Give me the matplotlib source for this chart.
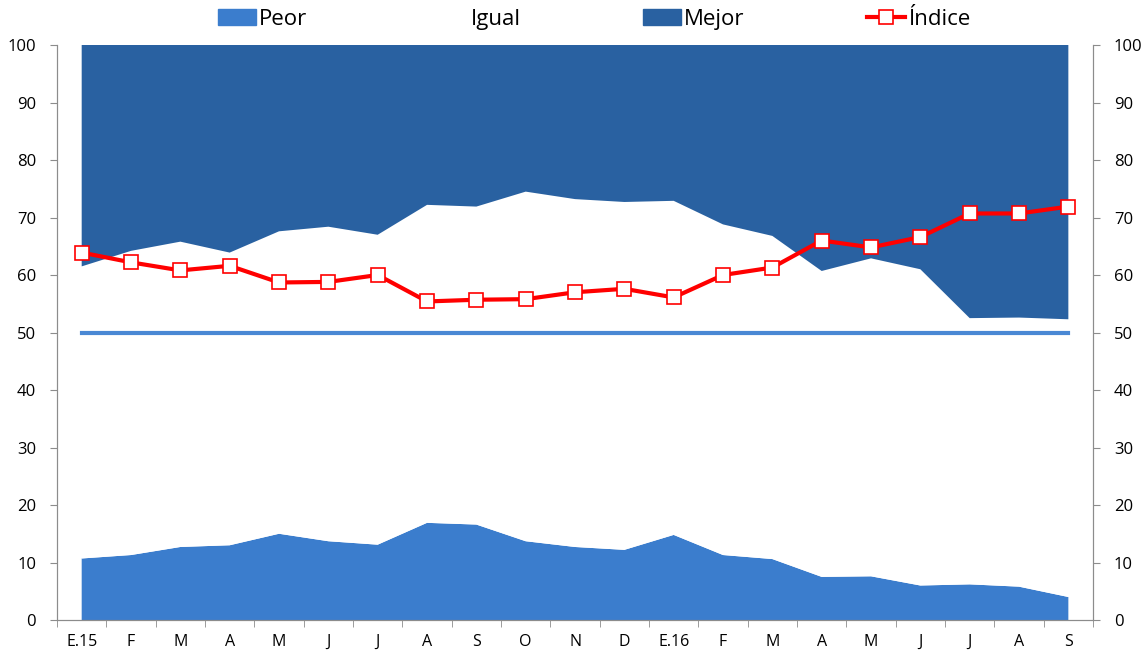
import numpy as np
import matplotlib.pyplot as plt
from matplotlib.patches import Patch
from matplotlib.lines import Line2D

plt.rcParams["font.family"] = ["Open Sans", "DejaVu Sans"]

meses = ["E.15", "F", "M", "A", "M", "J", "J", "A", "S", "O", "N", "D",
         "E.16", "F", "M", "A", "M", "J", "J", "A", "S"]

# % respuestas "peor"
peor = [10.7, 11.3, 12.7, 13.0, 15.0, 13.7, 13.1, 16.9, 16.6, 13.7, 12.7,
        12.2, 14.8, 11.3, 10.6, 7.5, 7.6, 6.0, 6.2, 5.8, 4.0]
# peor + igual (borde superior de la zona blanca)
peor_igual = [61.5, 64.2, 65.8, 63.9, 67.6, 68.4, 67.0, 72.2, 71.9, 74.5, 73.2,
              72.7, 72.9, 68.8, 66.8, 60.7, 62.9, 61.0, 52.5, 52.6, 52.3]
indice = [63.9, 62.2, 60.8, 61.6, 58.7, 58.8, 60.0, 55.4, 55.7, 55.8, 57.0,
          57.6, 56.1, 60.0, 61.3, 66.0, 64.8, 66.6, 70.7, 70.7, 71.9]

c_peor = "#3b7dcd"
c_mejor = "#2961a1"
c_ref = "#4a88d4"
c_grid = "#8c8c8c"

x = np.arange(len(meses))
igual = np.array(peor_igual) - np.array(peor)
mejor = 100 - np.array(peor_igual)

fig = plt.figure(figsize=(11.45, 6.57), dpi=100)
ax = fig.add_axes([0.0498, 0.0563, 0.9048, 0.8752])

ax.stackplot(x, peor, igual, mejor, colors=[c_peor, "white", c_mejor], linewidth=0)
ax.axhline(50, xmin=0.5 / 21, xmax=20.5 / 21, color=c_ref, lw=3, zorder=3)
ax.plot(x, indice, color="#ff0000", lw=3, marker="s", ms=10, mfc="white",
        mec="#ff0000", mew=1.2, zorder=4)

ax.set_xlim(-0.5, len(meses) - 0.5)
ax.set_ylim(0, 100)
ax.set_yticks(range(0, 101, 10))
ax.set_xticks(x)
ax.set_xticklabels(meses)
ax.set_xticks(np.arange(-0.5, len(meses), 1), minor=True)
ax.tick_params(axis="x", which="major", length=0, pad=10, labelsize=11.5)
ax.tick_params(axis="x", which="minor", length=5, color=c_grid, direction="out")
ax.tick_params(axis="y", length=5, color=c_grid, labelsize=12, pad=10)

for s in ["top"]:
    ax.spines[s].set_visible(False)
for s in ["left", "bottom", "right"]:
    ax.spines[s].set_color(c_grid)

ax2 = ax.twinx()
ax2.set_ylim(0, 100)
ax2.set_yticks(range(0, 101, 10))
ax2.tick_params(axis="y", length=5, color=c_grid, labelsize=12, pad=10)
ax2.spines["top"].set_visible(False)
for s in ["left", "bottom", "right"]:
    ax2.spines[s].set_color(c_grid)

handles = [
    Patch(color=c_peor, label="Peor"),
    Patch(color="white", label="Igual"),
    Patch(color=c_mejor, label="Mejor"),
    Line2D([0], [0], color="#ff0000", lw=3, marker="s", ms=10, mfc="white",
           mec="#ff0000", mew=1.2, label="Índice"),
]
fig.legend(handles=handles, loc="upper left", bbox_to_anchor=(0.177, 1.01),
           ncol=4, frameon=False, fontsize=16, handlelength=1.7,
           handletextpad=0.15, columnspacing=5.5, borderpad=0.2)

fig.savefig("out.png", dpi=100)
